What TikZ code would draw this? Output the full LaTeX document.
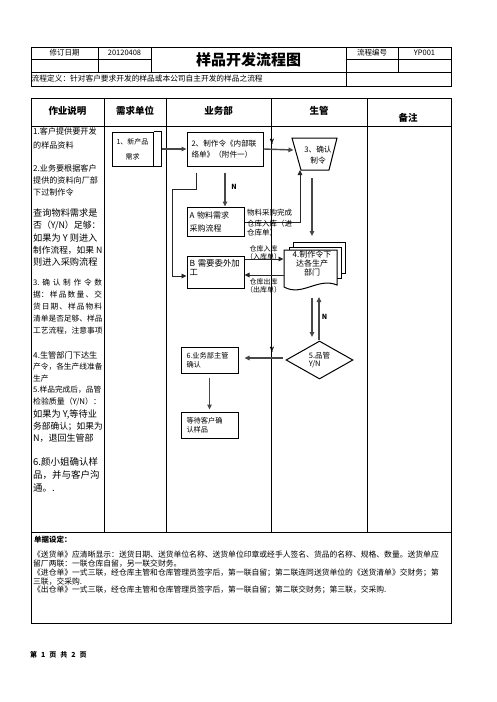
\documentclass[tikz,border=0pt]{standalone}
\usepackage{fontspec}
\setmainfont{Noto Sans CJK SC}
\usetikzlibrary{arrows.meta,shapes.geometric}
\newcommand\myfs[1]{\fontsize{#1}{#1}\selectfont}
\newcommand\myfsl[2]{\fontsize{#1}{#2}\selectfont}
\newcommand\spr[1]{\makebox[69pt][s]{#1}}
\begin{document}
\begin{tikzpicture}[x=1pt,y=-1pt,
  tl/.style={line width=0.9pt},
  bx/.style={draw, line width=1pt, inner ysep=0pt, align=left},
  tx/.style={inner sep=0pt},
  lc/.style={inner sep=0pt, anchor=west},
  arrK/.style={draw=black!72, line width=1.4pt, -{Triangle[length=5pt,width=4.5pt]}},
  arrT/.style={draw=black!85, line width=0.9pt, -{Triangle[length=5pt,width=4.5pt]}},
  pg/.style={draw, line width=1pt, fill=white}]
\useasboundingbox (0,0) rectangle (496,702);
\fill[white] (0,0) rectangle (496,702);

% ---------- header table ----------
\draw[tl] (31,47) rectangle (451,86);
\draw[tl] (31,59.5) -- (151,59.5) (346,59.5) -- (451,59.5);
\draw[tl] (31,72) -- (451,72);
\draw[tl] (98,47) -- (98,72) (151,47) -- (151,72) (346,47) -- (346,86) (398,47) -- (398,72);
\node[tx, font=\myfs{7.5}] (h1) at (64.5,52.5) {修订日期};
\node[tx, font=\myfs{7.5}] (h2) at (124.5,52.5) {20120408};
\node[tx, font=\myfs{15}\bfseries] (h3) at (248.5,59.5) {样品开发流程图};
\node[tx, font=\myfs{7.5}] (h4) at (372,52.5) {流程编号};
\node[tx, font=\myfs{7.5}] (h5) at (424.5,52.5) {YP001};
\node[lc, font=\myfs{7.7}] (h6) at (31.5,78.5) {流程定义：针对客户要求开发的样品或本公司自主开发的样品之流程};

% ---------- main table ----------
\draw[tl] (31,98) rectangle (451,623);
\draw[tl] (31,126) -- (451,126) (31,532) -- (451,532);
\draw[tl] (104,98) -- (104,532) (166,98) -- (166,532) (271,98) -- (271,532) (367,98) -- (367,532);
\node[tx, font=\myfs{9.5}\bfseries] (c1) at (67.5,110.5) {作业说明};
\node[tx, font=\myfs{9.5}\bfseries] (c2) at (135,110.5) {需求单位};
\node[tx, font=\myfs{9.5}\bfseries] (c3) at (218.5,110.5) {业务部};
\node[tx, font=\myfs{9.5}\bfseries] (c4) at (319,110.5) {生管};
\node[tx, font=\myfs{9.5}\bfseries] (c5) at (408,118) {备注};

% ---------- left column text ----------
\node[lc, font=\myfs{8.1}] (l1) at (33,131.5) {1.客户提供要开发};
\node[lc, font=\myfs{8.1}] (l2) at (33,145) {的样品资料};
\node[lc, font=\myfs{8.1}] (l3) at (33,168.5) {2.业务要根据客户};
\node[lc, font=\myfs{8.1}] (l4) at (33,180.5) {提供的资料向厂部};
\node[lc, font=\myfs{8.1}] (l5) at (33,192.5) {下过制作令};
\node[lc, font=\myfs{9.2}] (l6) at (33,213) {查询物料需求是};
\node[lc, font=\myfs{8.9}] (l7) at (33,225.5) {否（Y/N）足够：};
\node[lc, font=\myfs{9.2}] (l8) at (33,238) {如果为 Y 则进入};
\node[lc, font=\myfs{8.7}] (l9) at (33,250) {制作流程，如果 N};
\node[lc, font=\myfs{9.2}] (l10) at (33,262) {则进入采购流程};
\node[lc, font=\myfs{7.7}] (l11) at (33,283) {\spr{3.\hfill 确\hfill 认\hfill 制\hfill 作\hfill 令\hfill 数}};
\node[lc, font=\myfs{7.7}] (l12) at (33,295) {\spr{据：\hfill 样\hfill 品\hfill 数\hfill 量\hfill 、\hfill 交}};
\node[lc, font=\myfs{7.7}] (l13) at (33,307) {\spr{货\hfill 日\hfill 期\hfill 、\hfill 样\hfill 品\hfill 物\hfill 料}};
\node[lc, font=\myfs{7.7}] (l14) at (33,319) {清单是否足够、样品};
\node[lc, font=\myfs{7.7}] (l15) at (33,331) {工艺流程，注意事项};
\node[lc, font=\myfs{8.2}] (l16) at (33,355) {4.生管部门下达生};
\node[lc, font=\myfs{7.7}] (l17) at (33,367) {产令，各生产线准备};
\node[lc, font=\myfs{7.7}] (l18) at (33,378.5) {生产};
\node[lc, font=\myfs{7.7}] (l19) at (33,390) {5.样品完成后，品管};
\node[lc, font=\myfs{7.9}] (l20) at (33,402) {检验质量（Y/N）：};
\node[lc, font=\myfs{9.2}] (l21) at (33,414) {如果为 Y,等待业};
\node[lc, font=\myfs{8.7}] (l22) at (33,426.5) {务部确认；如果为};
\node[lc, font=\myfs{9}] (l23) at (33,438.5) {N，退回生管部};
\node[lc, font=\myfs{9.5}] (l24) at (33,462) {6.颜小姐确认样};
\node[lc, font=\myfs{9.5}] (l25) at (33,475) {品，并与客户沟};
\node[lc, font=\myfs{9.5}] (l26) at (33,488) {通。.};

% ---------- flowchart nodes ----------
\node[bx, minimum width=41pt, minimum height=34pt, inner xsep=0pt, align=center, font=\myfsl{7}{15}] (n1) at (132.5,149) {1、新产品\\需求};
\draw[line width=1pt] (n1.north east) -- ++(8,0) -- ([xshift=8pt]n1.south east) -- (n1.south east);

\node[bx, minimum width=76pt, minimum height=34pt, text width=67pt, inner xsep=4.5pt, font=\myfsl{7.6}{10.5}] (n2) at (225,149) {2、制作令《内部联\\络单》（附件一）};

\draw[line width=1pt] (292,138) -- (337,138) -- (329,170) -- (301,170) -- cycle;
\node[tx, align=center, font=\myfsl{7.7}{11}] (n3) at (318,155.5) {3、确认\\制令};
\coordinate (t3L) at (293.5,150);
\coordinate (t3B) at (300,170);
\coordinate (t3D) at (312,178);

\node[bx, minimum width=57pt, minimum height=29pt, text width=52pt, inner xsep=2.5pt, font=\myfsl{8}{13}] (nA) at (215.5,221.5) {A 物料需求\\采购流程};
\node[bx, minimum width=57pt, minimum height=32pt, text width=52pt, inner xsep=2.5pt, font=\myfsl{8.4}{9.5}] (nB) at (215.5,272) {B 需要委外加\\工\\~};

% multi-document shape
\draw[pg] (293,247) -- (293,242) -- (345,242) -- (345,273) -- (341,273);
\draw[pg] (289,250) -- (289,247) -- (341,247) -- (341,278) -- (337,278);
\draw[pg] (284,250) -- (337,250) -- (337,285) .. controls (318,277) and (302,297) .. (284,287) -- cycle;
\node[tx, align=center, font=\myfsl{8}{9}] (n4) at (312,263) {4.制作令下\\达各生产\\部门};
\coordinate (d4T) at (312,236);
\coordinate (d4L1) at (283.5,259);
\coordinate (d4L2) at (284,275);
\coordinate (d4B1) at (312,298);
\coordinate (d4B2) at (319,297);

\node[draw, diamond, line width=1pt, minimum width=67pt, minimum height=38pt, inner sep=0pt, align=left, font=\myfsl{7.5}{9}] (n5) at (319.5,360) {5.品管\\Y/N};

\node[bx, minimum width=57pt, minimum height=26pt, text width=46pt, inner xsep=5.5pt, font=\myfsl{7.2}{8.5}] (n6) at (209.5,360) {6.业务部主管\\确认};
\node[bx, minimum width=57pt, minimum height=26pt, text width=46pt, inner xsep=5.5pt, font=\myfsl{7.2}{8.5}] (n7) at (209.5,425) {等待客户确\\认样品};

% ---------- connectors ----------
\draw[arrK] ([xshift=8pt]n1.east) -- (n2.west);
\draw[arrK] (n2.east) -- (t3L);
\node[tx, font=\myfs{7}\bfseries] (y1) at (272,142) {Y};
\draw[arrK] ([yshift=-6pt]n2.south) -- (n2.south |- nA.north);
\node[tx, font=\myfs{7}\bfseries] (nn1) at (234,187) {N};
\draw[arrT] ([xshift=-29pt,yshift=-6pt]n2.south) |- (172,189) |- ([yshift=-4pt]nB.west);
\draw[arrT] ([yshift=-0.5pt]nA.east) -| (t3B);
\node[lc, font=\myfs{7.5}] (e1) at (247,213) {物料采购完成};
\node[lc, align=left, font=\myfsl{7.5}{8.5}] (e2) at (247,228) {仓库入库（进\\仓库单）};
\draw[arrK] (t3D) -- (d4T);
\draw[arrT] (nB.east |- d4L1) -- (d4L1);
\node[tx, align=center, font=\myfsl{7}{8}] (e3) at (263.5,253) {仓库入库\\（入库单）};
\draw[arrT] (d4L2) -- (nB.east |- d4L2);
\node[tx, align=center, font=\myfsl{7}{8}] (e4) at (263.5,285.5) {仓库出库\\（出库单）};
\draw[arrK] (d4B1) -- (312,337);
\draw[arrK] ([yshift=1pt]n5.north -| d4B2) -- (d4B2);
\node[tx, font=\myfs{7}\bfseries] (nn2) at (324.5,317) {N};
\draw[arrK] ([xshift=-3pt,yshift=2pt]n5.west) -- ([xshift=6pt,yshift=2pt]n6.east);
\node[tx, font=\myfs{7}\bfseries] (y2) at (272,350) {Y};
\draw[arrK] ([yshift=-4pt]n6.south) -- ([yshift=2pt]n7.north);

% ---------- bottom notes ----------
\node[lc, font=\myfs{7.5}\bfseries] (b0) at (34,539.5) {单据设定：};
\node[lc, font=\myfs{7.8}] (b1) at (33,555) {《送货单》应清晰显示：送货日期、送货单位名称、送货单位印章或经手人签名、货品的名称、规格、数量。送货单应};
\node[lc, font=\myfs{7.8}] (b2) at (33,563.5) {留厂两联：一联仓库自留，另一联交财务。};
\node[lc, font=\myfs{7.8}] (b3) at (33,573) {《进仓单》一式三联，经仓库主管和仓库管理员签字后，第一联自留；第二联连同送货单位的《送货清单》交财务；第};
\node[lc, font=\myfs{7.8}] (b4) at (33,581.5) {三联，交采购.};
\node[lc, font=\myfs{7.8}] (b5) at (33,590) {《出仓单》一式三联，经仓库主管和仓库管理员签字后，第一联自留；第二联交财务；第三联，交采购.};

\node[lc, font=\myfs{7}\bfseries] (f1) at (30,655) {第\hspace{4pt}1\hspace{4pt}页\hspace{4pt}共\hspace{4pt}2\hspace{4pt}页};
\end{tikzpicture}
\end{document}
